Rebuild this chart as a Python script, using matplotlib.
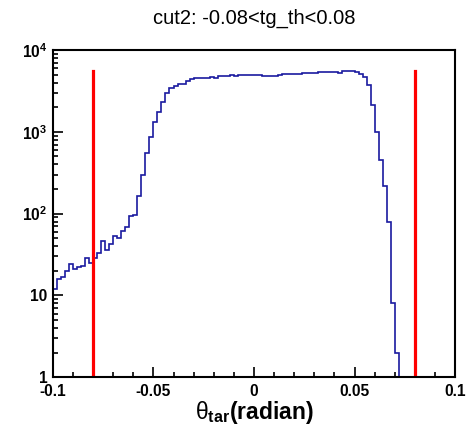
import numpy as np
import matplotlib
matplotlib.use("Agg")
import matplotlib.pyplot as plt
from matplotlib.ticker import FixedLocator, MultipleLocator, FixedFormatter, LogLocator, NullFormatter

plt.rcParams['font.family'] = ['Liberation Sans', 'DejaVu Sans']
plt.rcParams['mathtext.fontset'] = 'custom'
plt.rcParams['mathtext.rm'] = 'Liberation Sans'
plt.rcParams['mathtext.bf'] = 'Liberation Sans:bold'
plt.rcParams['mathtext.it'] = 'Liberation Sans:italic'

# histogram of theta_tar, 100 bins from -0.1 to 0.1
x_min, x_max, n_bins = -0.1, 0.1, 100
counts = [
    12, 16, 17, 20, 24, 21, 22, 23, 29, 25,
    29, 33, 46, 36, 42, 54, 50, 61, 68, 93,
    96, 166, 299, 550, 861, 1336, 1770, 2340, 2980, 3410,
    3640, 3800, 3900, 4170, 4430, 4500, 4520, 4540, 4520, 4700,
    4600, 4800, 4850, 4880, 4900, 4870, 4920, 4950, 4900, 4980,
    5020, 5000, 4860, 4850, 4870, 4880, 4900, 5100, 5080, 5100,
    5120, 5100, 5200, 5180, 5220, 5200, 5440, 5420, 5450, 5440,
    5430, 5300, 5550, 5540, 5500, 5400, 5100, 4700, 3740, 2130,
    1010, 456, 215, 80, 8, 2, 0, 0, 0, 0,
    0, 0, 0, 0, 0, 0, 0, 0, 0, 0,
]
cut_lines = [-0.08, 0.08]
cut_top = 5600

x_ticks = [-0.1, -0.05, 0, 0.05, 0.1]
x_tick_labels = ['-0.1', '-0.05', '0', '0.05', '0.1']
y_ticks = [1, 10, 100, 1000, 10000]
y_tick_labels = ['1', '10', r'$\mathbf{10^{2}}$', r'$\mathbf{10^{3}}$', r'$\mathbf{10^{4}}$']

fig = plt.figure(figsize=(4.76, 4.32), dpi=100)
ax = fig.add_axes([0.111, 0.127, 0.845, 0.757])

edges = np.linspace(x_min, x_max, n_bins + 1)
vals = np.array(counts, dtype=float)
vals[vals <= 0] = 0.1  # empty bins drawn at the bottom like ROOT
ax.stairs(vals, edges, baseline=None, color='#1a1aa0', linewidth=1.2)

for xc in cut_lines:
    ax.plot([xc, xc], [1, cut_top], color='#ff0000', linewidth=2.3)

ax.set_yscale('log')
ax.set_xlim(x_min, x_max)
ax.set_ylim(1, 1e4)

ax.xaxis.set_major_locator(FixedLocator(x_ticks))
ax.xaxis.set_major_formatter(FixedFormatter(x_tick_labels))
ax.xaxis.set_minor_locator(MultipleLocator(0.01))
ax.yaxis.set_major_locator(FixedLocator(y_ticks))
ax.yaxis.set_major_formatter(FixedFormatter(y_tick_labels))
ax.yaxis.set_minor_locator(LogLocator(base=10, subs=np.arange(2, 10)))
ax.yaxis.set_minor_formatter(NullFormatter())

ax.tick_params(which='both', direction='in', top=False, right=False, width=1.2)
ax.tick_params(which='major', length=7)
ax.tick_params(which='minor', length=3.5)
ax.tick_params(axis='x', which='major', pad=5)
ax.tick_params(axis='y', which='major', pad=4)
for lab in ax.get_xticklabels() + ax.get_yticklabels():
    lab.set_fontweight('bold')
    lab.set_fontsize(11.2)

for sp in ax.spines.values():
    sp.set_linewidth(1.5)

ax.set_xlabel(r'$\mathrm{\theta}_{\mathbf{tar}}$(radian)', fontsize=16.5, fontweight='bold', labelpad=0)
fig.text(0.535, 0.957, 'cut2: -0.08<tg_th<0.08', ha='center', va='center', fontsize=14.5)

fig.savefig('out.png', dpi=100)
